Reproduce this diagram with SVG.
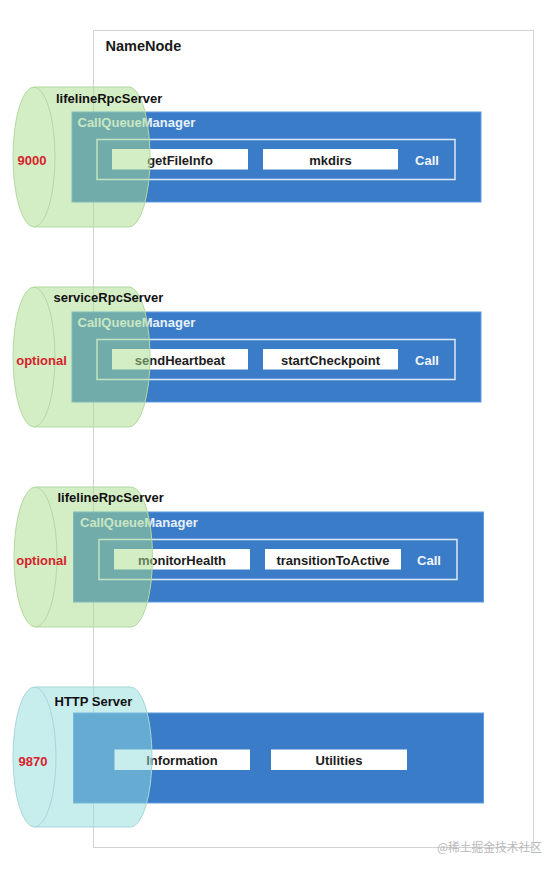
<svg xmlns="http://www.w3.org/2000/svg" width="560" height="872" viewBox="0 0 560 872">
<defs>
<style>
text{font-family:"Liberation Sans",Arial,sans-serif;font-weight:bold;font-size:13px}
.frame{fill:#fff;stroke:#d2d2d2;stroke-width:1}
.queue{fill:#3b7cc8;stroke:#5d9ce0;stroke-width:1}
.inner{fill:none;stroke:#dce9f7;stroke-width:1.5}
.box{fill:#fff}
.lbl{fill:#1c1c1c;text-anchor:middle}
.cqm{fill:#e8f1fb}
.call{fill:#f2f7fd;text-anchor:middle}
.cylg{fill:#a8db8c;fill-opacity:0.5;stroke:#b3d9a0;stroke-width:1}
.cylc{fill:#92dcdc;fill-opacity:0.5;stroke:#a6d6da;stroke-width:1}
.edge{fill:none}
.srv{fill:#111}
.port{fill:#d8222c;text-anchor:middle}
.wm{font-family:"Noto Sans CJK SC","Liberation Sans",sans-serif;font-weight:normal;font-size:12px;fill:#b9b9b9}
</style>
</defs>
<rect width="560" height="872" fill="#fff"/>
<g id="namenode">
<rect class="frame" x="93.5" y="30.5" width="440" height="817"/>
<text x="105.5" y="50.5" style="font-size:14.5px" fill="#1a1a1a">NameNode</text>
</g>
<g id="connectors"></g>

<g id="queue1">
<rect class="queue" x="72" y="112" width="409" height="90"/>
<text class="cqm" x="77.5" y="126.5">CallQueueManager</text>
<rect class="inner" x="97" y="139.5" width="358" height="40"/>
<rect class="box" x="112" y="149" width="136" height="20.5"/>
<text class="lbl" x="180" y="164.5">getFileInfo</text>
<rect class="box" x="263" y="149" width="135" height="20.5"/>
<text class="lbl" x="330.5" y="164.5">mkdirs</text>
<text class="call" x="427" y="164.5">Call</text>
</g>
<g id="server1">
<path class="cylg" d="M34,87 L129,87 A21,70 0 0 1 129,227 L34,227 A21,70 0 0 1 34,87 Z"/>
<path class="cylg edge" d="M34,87 A21,70 0 0 1 34,227"/>
<text class="srv" x="56" y="103">lifelineRpcServer</text>
<text class="port" x="32" y="164.5">9000</text>
</g>

<g id="queue2">
<rect class="queue" x="72" y="312" width="409" height="90"/>
<text class="cqm" x="77.5" y="326.5">CallQueueManager</text>
<rect class="inner" x="97" y="339.5" width="358" height="40"/>
<rect class="box" x="112" y="349" width="136" height="20.5"/>
<text class="lbl" x="180" y="364.5">sendHeartbeat</text>
<rect class="box" x="263" y="349" width="135" height="20.5"/>
<text class="lbl" x="330.5" y="364.5">startCheckpoint</text>
<text class="call" x="427" y="364.5">Call</text>
</g>
<g id="server2">
<path class="cylg" d="M34,287 L129,287 A21,70 0 0 1 129,427 L34,427 A21,70 0 0 1 34,287 Z"/>
<path class="cylg edge" d="M34,287 A21,70 0 0 1 34,427"/>
<text class="srv" x="53.5" y="302">serviceRpcServer</text>
<text class="port" x="41.5" y="364.5">optional</text>
</g>

<g id="queue3">
<rect class="queue" x="73.5" y="512" width="410" height="90"/>
<text class="cqm" x="80" y="526.5">CallQueueManager</text>
<rect class="inner" x="99" y="539.5" width="358" height="40"/>
<rect class="box" x="114" y="549" width="136" height="20.5"/>
<text class="lbl" x="182" y="564.5">monitorHealth</text>
<rect class="box" x="265" y="549" width="136" height="20.5"/>
<text class="lbl" x="333" y="564.5">transitionToActive</text>
<text class="call" x="429" y="564.5">Call</text>
</g>
<g id="server3">
<path class="cylg" d="M35.5,487 L131,487 A21.5,70 0 0 1 131,627 L35.5,627 A21.5,70 0 0 1 35.5,487 Z"/>
<path class="cylg edge" d="M35.5,487 A21.5,70 0 0 1 35.5,627"/>
<text class="srv" x="57.5" y="502">lifelineRpcServer</text>
<text class="port" x="41.5" y="564.5">optional</text>
</g>

<g id="queue4">
<rect class="queue" x="73.5" y="713" width="410" height="90"/>
<rect class="box" x="114.5" y="749.5" width="135.5" height="20.5"/>
<text class="lbl" x="182" y="765">Information</text>
<rect class="box" x="271" y="749.5" width="136" height="20.5"/>
<text class="lbl" x="339" y="765">Utilities</text>
</g>
<g id="server4">
<path class="cylc" d="M34.5,687 L130.5,687 A21.5,70 0 0 1 130.5,827 L34.5,827 A21.5,70 0 0 1 34.5,687 Z"/>
<path class="cylc edge" d="M34.5,687 A21.5,70 0 0 1 34.5,827"/>
<text class="srv" x="54.5" y="706">HTTP Server</text>
<text class="port" x="33" y="765.5">9870</text>
</g>

<text class="wm" x="437" y="852" textLength="105" lengthAdjust="spacingAndGlyphs">@稀土掘金技术社区</text>
</svg>
